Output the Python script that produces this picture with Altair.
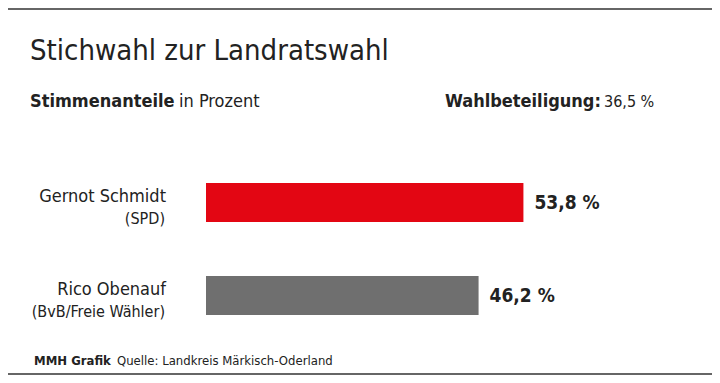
import altair as alt
import pandas as pd

# Data
names = ["Gernot Schmidt", "Rico Obenauf"]
parties = ["(SPD)", "(BvB/Freie Wähler)"]
values = [53.8, 46.2]
value_labels = ["53,8 %", "46,2 %"]
colors = ["#E30613", "#6F6F6F"]

title_text = "Stichwahl zur Landratswahl"
sub_bold = "Stimmenanteile"
sub_normal = "in Prozent"
turnout_bold = "Wahlbeteiligung:"
turnout_value = "36,5 %"
footer_bold = "MMH Grafik"
footer_normal = "Quelle: Landkreis Märkisch-Oderland"

FONT = "DejaVu Sans Condensed, sans-serif"
TXT = "#222222"

df = pd.DataFrame({"name": names, "party": parties, "value": values,
                   "label": value_labels, "color": colors})

y_enc = alt.Y("name:N", axis=None,
              scale=alt.Scale(domain=names, paddingInner=0, paddingOuter=0))
x_enc = alt.X("value:Q", axis=None, scale=alt.Scale(domain=[0, 60]))

base = alt.Chart(df)

bars = base.mark_bar(size=39).encode(
    x=x_enc, y=y_enc, color=alt.Color("color:N", scale=None, legend=None))

vals = base.mark_text(align="left", baseline="middle", dx=11, font=FONT,
                      fontSize=19, fontWeight="bold", color=TXT).encode(
    x=x_enc, y=y_enc, text="label:N")

name_lbl = base.mark_text(align="right", baseline="alphabetic", dy=-1,
                          font=FONT, fontSize=18, color=TXT).encode(
    x=alt.value(-40), y=y_enc, text="name:N")

party_lbl = base.mark_text(align="right", baseline="alphabetic", dy=21,
                           font=FONT, fontSize=16, color=TXT).encode(
    x=alt.value(-41), y=y_enc, text="party:N")


def txt(s, x, y, size, weight="normal", align="left"):
    return alt.Chart(pd.DataFrame({"t": [s]})).mark_text(
        align=align, baseline="alphabetic", font=FONT, fontSize=size,
        fontWeight=weight, color=TXT).encode(
        x=alt.value(x), y=alt.value(y), text="t:N")


title = txt(title_text, -176, -96, 29)
sb = txt(sub_bold, -176, -49, 18, "bold")
sn = txt(sub_normal, -27, -49, 18)
tb = txt(turnout_bold, 239, -49, 18, "bold")
tv = txt(turnout_value, 398, -49, 16)
fb = txt(footer_bold, -172, 209, 13, "bold")
fn = txt(footer_normal, -89, 209, 13)

border_df = pd.DataFrame({"k": [0]})
top_line = alt.Chart(border_df).mark_rule(color="#666666", strokeWidth=2).encode(
    x=alt.value(-198), x2=alt.value(506), y=alt.value(-147))
bot_line = alt.Chart(border_df).mark_rule(color="#666666", strokeWidth=2).encode(
    x=alt.value(-198), x2=alt.value(506), y=alt.value(218))

chart = alt.layer(
    top_line, bot_line, bars, vals, name_lbl, party_lbl,
    title, sb, sn, tb, tv, fb, fn
).properties(
    width=354, height=186,
    autosize=alt.AutoSizeParams(type="none"),
    padding={"left": 198, "top": 148, "right": 152, "bottom": 33},
).configure(background="white", view={"stroke": "transparent", "strokeWidth": 0})

chart.save("out.html", embed_options={"renderer": "svg", "actions": False})
